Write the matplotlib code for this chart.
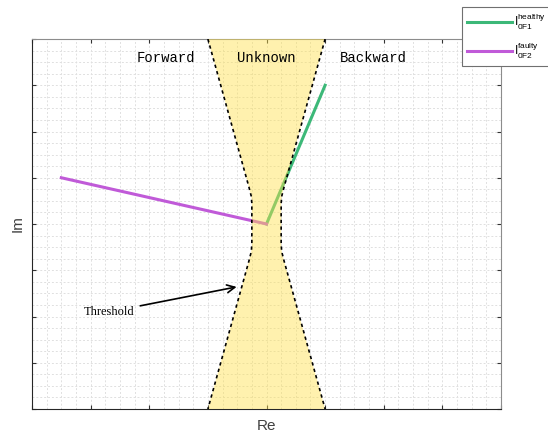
import numpy as np
import matplotlib.pyplot as plt
from matplotlib.ticker import MultipleLocator, NullFormatter

# phasor end points (Re, Im)
healthy_re = [0.0, 1.0]
healthy_im = [0.0, 3.0]
faulty_re = [0.0, -3.5]
faulty_im = [0.0, 1.0]

# threshold edges of the "unknown" zone (right edge; left edge is its mirror)
edge_re = [1.0, 0.3, 0.26, 0.25, 0.25, 0.26, 0.3, 1.0]
edge_im = [4.0, 0.8, 0.6, 0.45, -0.45, -0.6, -0.8, -4.0]

region_names = ["Forward", "Unknown", "Backward"]
region_re = [-1.72, 0.0, 1.83]
region_im = 3.6

fig = plt.figure(figsize=(5.48, 4.34), dpi=100)
ax = fig.add_axes([32/548, 1-409/434, 469/548, 370/434])

ax.plot(healthy_re, healthy_im, color="#3cb878", lw=2.2, label=r"$\mathregular{I^{healthy}_{0F1}}$")
ax.plot(faulty_re, faulty_im, color="#c05ad8", lw=2.2, label=r"$\mathregular{I^{faulty}_{0F2}}$")

right_re = np.array(edge_re)
right_im = np.array(edge_im)
zone_re = np.concatenate([right_re, -right_re[::-1]])
zone_im = np.concatenate([right_im, right_im[::-1]])
ax.fill(zone_re, zone_im, color="#ffe14d", alpha=0.45, lw=0, zorder=3)
for sign in (1, -1):
    ax.plot(sign * right_re, right_im, color="black", lw=1.2, ls=(0, (2, 2)), zorder=4)

for name, xr in zip(region_names, region_re):
    ax.text(xr, region_im, name, ha="center", va="center", family="Liberation Mono", fontsize=10)

ax.annotate("Threshold", xy=(-0.51, -1.36), xytext=(-2.68, -1.9),
            ha="center", va="center", family="Liberation Serif", fontsize=9,
            arrowprops=dict(arrowstyle="->", color="black", lw=1.2, mutation_scale=14,
                            shrinkA=2, shrinkB=0))

ax.set_xlim(-4, 4)
ax.set_ylim(-4, 4)
ax.xaxis.set_major_locator(MultipleLocator(1))
ax.yaxis.set_major_locator(MultipleLocator(1))
ax.xaxis.set_minor_locator(MultipleLocator(0.25))
ax.yaxis.set_minor_locator(MultipleLocator(0.25))
ax.xaxis.set_major_formatter(NullFormatter())
ax.yaxis.set_major_formatter(NullFormatter())
ax.tick_params(which="major", direction="in", length=3, color="#333333", top=True, right=True)
ax.tick_params(which="minor", length=0)
ax.grid(which="both", color="#e0e0e0", ls=(0, (2, 2)), lw=0.7)
ax.set_axisbelow(True)

for side in ("left", "bottom"):
    ax.spines[side].set_color("#262626")
for side in ("top", "right"):
    ax.spines[side].set_color("#8c8c8c")

ax.set_xlabel("Re", family="Liberation Sans", fontsize=11, color="#404040", labelpad=4)
ax.set_ylabel("Im", family="Liberation Sans", fontsize=11, color="#404040", labelpad=2)

leg = fig.legend(loc="upper left", bbox_to_anchor=(462/548, 1-7/434), borderaxespad=0,
                 fancybox=False, edgecolor="#707070", framealpha=1, handlelength=3.8,
                 borderpad=0.4, labelspacing=0.75, handletextpad=0.2,
                 prop={"family": "Liberation Sans", "size": 8.5})
leg.get_frame().set_linewidth(0.8)

fig.savefig("out.png", dpi=100)
